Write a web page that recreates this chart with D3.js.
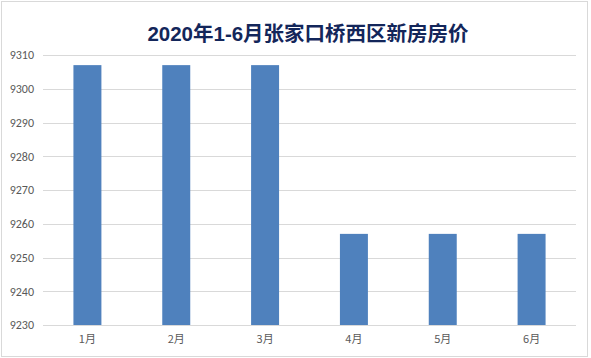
<!DOCTYPE html>
<html>
<head>
<meta charset="utf-8">
<script src="https://cdn.jsdelivr.net/npm/d3@7"></script>
<style>
  body { margin: 0; background: #fff; }
  svg { display: block; }
</style>
</head>
<body>
<div id="chart"></div>
<script>
// 数据
var months = ["1月", "2月", "3月", "4月", "5月", "6月"];
var prices = [9307, 9307, 9307, 9257, 9257, 9257];
var yTicks = [9230, 9240, 9250, 9260, 9270, 9280, 9290, 9300, 9310];
var title = "2020年1-6月张家口桥西区新房房价";

var width = 591, height = 358;
var plotLeft = 43, plotRight = 576, plotTop = 55, plotBottom = 325;

var svg = d3.select("#chart").append("svg")
  .attr("width", width)
  .attr("height", height);

svg.append("rect")
  .attr("x", 1.5).attr("y", 1.5)
  .attr("width", 586).attr("height", 355)
  .attr("fill", "#fff")
  .attr("stroke", "#d9d9d9");

var x = d3.scaleBand()
  .domain(months)
  .range([plotLeft, plotRight])
  .paddingInner(0.685)
  .paddingOuter(0.3425);

var y = d3.scaleLinear()
  .domain([9230, 9310])
  .range([plotBottom, plotTop]);

// 网格线
svg.append("g")
  .selectAll("line")
  .data(yTicks)
  .enter()
    .append("line")
    .attr("x1", plotLeft)
    .attr("x2", plotRight)
    .attr("y1", function(d) { return Math.round(y(d)) + 0.5; })
    .attr("y2", function(d) { return Math.round(y(d)) + 0.5; })
    .attr("stroke", "#d9d9d9")
    .attr("stroke-width", 1);

// 柱子
svg.append("g")
  .selectAll("rect")
  .data(prices)
  .enter()
    .append("rect")
    .attr("fill", "#4f81bd")
    .attr("x", function(d, i) { return x(months[i]); })
    .attr("width", x.bandwidth())
    .attr("y", function(d) { return y(d); })
    .attr("height", function(d) { return y(9230) - y(d); });

// y 轴
var yAxis = svg.append("g")
  .attr("transform", "translate(" + (plotLeft - 9) + ",0)")
  .call(d3.axisLeft(y).tickValues(yTicks).tickFormat(d3.format("d")).tickSize(0).tickPadding(0));
yAxis.select(".domain").remove();
yAxis.selectAll("text")
  .attr("fill", "#595959")
  .attr("font-family", "Calibri, Carlito, 'Liberation Sans', sans-serif")
  .attr("font-size", "12px");

// x 轴
var xAxis = svg.append("g")
  .attr("transform", "translate(0," + plotBottom + ")")
  .call(d3.axisBottom(x).tickSize(0).tickPadding(10));
xAxis.select(".domain").remove();
xAxis.selectAll("text")
  .attr("fill", "#595959")
  .attr("font-family", "'Noto Sans CJK SC', sans-serif")
  .attr("font-size", "11px");

// 标题
svg.append("text")
  .attr("x", 308)
  .attr("y", 41)
  .attr("text-anchor", "middle")
  .attr("fill", "#13265a")
  .attr("font-family", "'Liberation Sans', 'Noto Sans CJK SC', sans-serif")
  .attr("font-weight", "bold")
  .attr("font-size", "20.5px")
  .text(title);
</script>
</body>
</html>
